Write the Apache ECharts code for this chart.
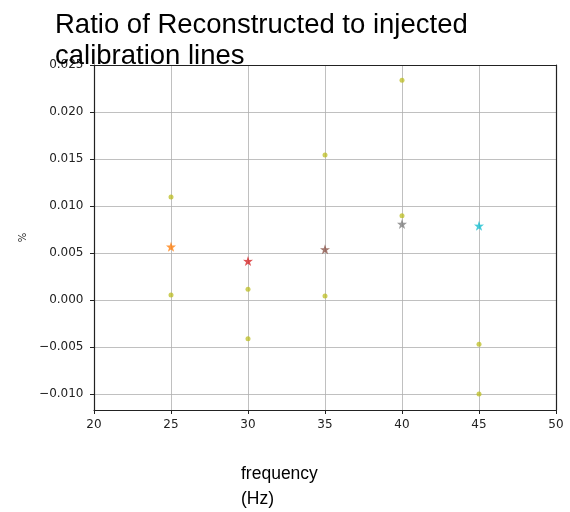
<!DOCTYPE html>
<html>
<head>
<meta charset="utf-8">
<script src="https://cdn.jsdelivr.net/npm/echarts@6/dist/echarts.min.js"></script>
<style>html,body{margin:0;padding:0;background:#fff}#c{width:570px;height:512px}</style>
</head>
<body>
<div id="c"></div>
<script>
// Data
const freqs = [25, 30, 35, 40, 45];
const ratioValues = [0.00567, 0.00415, 0.00539, 0.00809, 0.0079];
const starColors = ['#ff7f0e', '#d62728', '#8c564b', '#7f7f7f', '#17becf'];
const bandFreqs = [25, 25, 30, 30, 35, 35, 40, 40, 45, 45];
const bandValues = [0.01096, 0.00053, 0.00114, -0.00412, 0.01543, 0.00043, 0.02337, 0.00897, -0.00471, -0.0100];
const yTicks = [-0.010, -0.005, 0.000, 0.005, 0.010, 0.015, 0.020, 0.025];
const xTicks = [20, 25, 30, 35, 40, 45, 50];

const starPath = 'path://M50,0 L61.8,35.4 L97.6,34.5 L69,56.2 L79.4,90.5 L50,70 L20.6,90.5 L31,56.2 L2.4,34.5 L38.2,35.4 Z';

function fmt(v) {
  const s = Math.abs(v).toFixed(3);
  return (v < -1e-9 ? '\u2212' : '') + s;
}

const chart = echarts.init(document.getElementById('c'), null, {renderer: 'canvas'});
const series = [{
  type: 'scatter',
  data: bandFreqs.map((f, i) => [f, bandValues[i]]),
  symbol: 'circle',
  symbolSize: 5,
  itemStyle: {color: '#bcbd22', opacity: 0.75},
  z: 3
}];
freqs.forEach((f, i) => {
  series.push({
    type: 'scatter',
    data: [[f, ratioValues[i]]],
    symbol: starPath,
    symbolSize: 10,
    itemStyle: {color: starColors[i]},
    z: 4
  });
});

const spine = {color: '#222', width: 1.2};
const labelFont = {fontFamily: 'DejaVu Sans', fontSize: 12, color: '#222'};

chart.setOption({
  animation: false,
  title: {
    text: 'Ratio of Reconstructed to injected\ncalibration lines',
    left: 50, top: 5,
    textStyle: {fontFamily: 'Liberation Sans', fontSize: 27.5, fontWeight: 'normal', color: '#000', lineHeight: 31}
  },
  grid: {left: 94, right: 14, top: 65, bottom: 102, outerBoundsMode: 'none', containLabel: false},
  xAxis: [{
    type: 'value', min: 20, max: 50, interval: 5,
    name: '{a|frequency}\n{a|(Hz)}',
    nameLocation: 'middle',
    nameGap: 52,
    nameTextStyle: {
      align: 'center', verticalAlign: 'top',
      rich: {a: {fontFamily: 'Liberation Sans', fontSize: 17.5, color: '#000', lineHeight: 25, width: 168, align: 'left'}}
    },
    axisLine: {show: true, onZero: false, lineStyle: spine},
    axisTick: {show: true, length: 4, lineStyle: {color: '#222'}},
    axisLabel: Object.assign({margin: 9}, labelFont),
    splitLine: {show: true, lineStyle: {color: '#b0b0b0', width: 0.8}}
  }, {
    type: 'value', min: 20, max: 50, position: 'top',
    axisLine: {show: true, onZero: false, lineStyle: spine},
    axisTick: {show: false}, axisLabel: {show: false}, splitLine: {show: false}
  }],
  yAxis: [{
    type: 'value', min: -0.0117, max: 0.025,
    name: '%',
    nameLocation: 'middle',
    nameRotate: 90,
    nameGap: 48,
    nameTextStyle: {fontFamily: 'DejaVu Sans', fontSize: 10, color: '#222'},
    axisLine: {show: true, onZero: false, lineStyle: spine},
    axisTick: {show: true, length: 4, lineStyle: {color: '#222'}, customValues: yTicks},
    axisLabel: Object.assign({margin: 10.5, customValues: yTicks, formatter: v => fmt(v)}, labelFont),
    splitLine: {show: true, lineStyle: {color: '#b0b0b0', width: 0.8}}
  }, {
    type: 'value', min: -0.0117, max: 0.025, position: 'right',
    axisLine: {show: true, onZero: false, lineStyle: spine},
    axisTick: {show: false}, axisLabel: {show: false}, splitLine: {show: false}
  }],
  series: series
});
</script>
</body>
</html>
